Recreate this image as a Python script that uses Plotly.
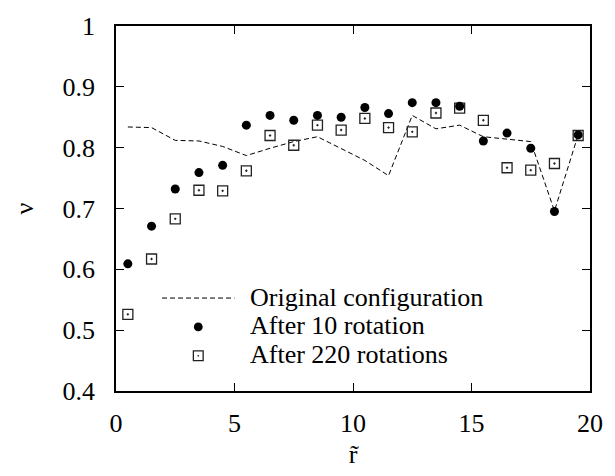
import plotly.graph_objects as go

# ---- data ----
r = [0.5, 1.5, 2.5, 3.5, 4.5, 5.5, 6.5, 7.5, 8.5, 9.5,
     10.5, 11.5, 12.5, 13.5, 14.5, 15.5, 16.5, 17.5, 18.5, 19.5]
original = [0.834, 0.833, 0.812, 0.811, 0.802, 0.787, 0.799, 0.810, 0.818, 0.799,
            0.779, 0.754, 0.853, 0.831, 0.837, 0.818, 0.814, 0.810, 0.696, 0.821]
after10 = [0.609, 0.671, 0.732, 0.759, 0.771, 0.837, 0.853, 0.845, 0.853, 0.850,
           0.866, 0.856, 0.874, 0.874, 0.868, 0.811, 0.824, 0.799, 0.695, 0.821]
after220 = [0.526, 0.617, 0.683, 0.730, 0.729, 0.762, 0.820, 0.804, 0.837, 0.829,
            0.848, 0.833, 0.826, 0.857, 0.865, 0.845, 0.767, 0.763, 0.774, 0.820]
names = ["Original configuration", "After 10 rotation", "After 220 rotations"]
x_ticks = [0, 5, 10, 15, 20]
y_ticks = [0.4, 0.5, 0.6, 0.7, 0.8, 0.9, 1.0]
y_ticklabels = ["0.4", "0.5", "0.6", "0.7", "0.8", "0.9", "1"]

FONT = "Liberation Serif, Times New Roman, serif"
FS = 26
LFS = 26

fig = go.Figure()
fig.add_trace(go.Scatter(x=r, y=original, mode="lines", name=names[0],
                         line=dict(color="black", width=1, dash="5px,3px"),
                         showlegend=False))
fig.add_trace(go.Scatter(x=r, y=after220, mode="markers", name=names[2],
                         marker=dict(symbol="square-open-dot", size=10, color="#222",
                                     line=dict(width=1.3, color="#222")),
                         showlegend=False))
fig.add_trace(go.Scatter(x=r, y=after10, mode="markers", name=names[1],
                         marker=dict(symbol="circle", size=9, color="black"),
                         showlegend=False))

# plot area geometry (pixels)
L, R, T, B = 116, 15, 18, 85
W, H = 615, 476
pw, ph = W - L - R, H - T - B

def px(xp):
    return (xp - L) / pw

def py(yp):
    return (H - B - yp) / ph

# manual legend (styled like the original gnuplot key)
rows = [296.0, 325.5, 355.0]
sym_x = 200
fig.add_shape(type="line", xref="paper", yref="paper",
              x0=px(163), x1=px(237), y0=py(rows[0]), y1=py(rows[0]),
              line=dict(color="black", width=1, dash="5px,3px"))
d = 4.5
fig.add_shape(type="circle", xref="paper", yref="paper",
              x0=px(sym_x - d), x1=px(sym_x + d), y0=py(rows[1] + d), y1=py(rows[1] - d),
              fillcolor="black", line=dict(color="black", width=0))
s = 5
fig.add_shape(type="rect", xref="paper", yref="paper",
              x0=px(sym_x - s), x1=px(sym_x + s), y0=py(rows[2] + s), y1=py(rows[2] - s),
              line=dict(color="#222", width=1.3))
fig.add_shape(type="rect", xref="paper", yref="paper",
              x0=px(sym_x - 0.7), x1=px(sym_x + 0.7), y0=py(rows[2] + 0.7), y1=py(rows[2] - 0.7),
              fillcolor="#222", line=dict(color="#222", width=0))
for name, yr in zip(names, rows):
    fig.add_annotation(text=name, xref="paper", yref="paper", x=px(252), y=py(yr - 1),
                       xanchor="left", yanchor="middle", showarrow=False, borderpad=0,
                       font=dict(family=FONT, size=LFS, color="black"))

axis_common = dict(showline=True, linecolor="black", linewidth=1.5, mirror="ticks",
                   ticks="inside", ticklen=8, tickwidth=1, tickcolor="black",
                   showgrid=False, zeroline=False,
                   tickfont=dict(family=FONT, size=FS, color="black"))

fig.update_layout(
    width=W, height=H,
    margin=dict(l=L, r=R, t=T, b=B),
    paper_bgcolor="white", plot_bgcolor="white",
    xaxis=dict(range=[0, 20], tickvals=x_ticks, ticklabelstandoff=8,
               title=dict(text="r\u0303", font=dict(family=FONT, size=26, color="black"),
                          standoff=8),
               **axis_common),
    yaxis=dict(range=[0.4, 1.0], tickvals=y_ticks, ticktext=y_ticklabels,
               ticklabelstandoff=14,
               title=dict(text="\u03bd", font=dict(family=FONT, size=26, color="black"),
                          standoff=21),
               **axis_common),
    showlegend=False,
)

fig.write_html("out.html")
